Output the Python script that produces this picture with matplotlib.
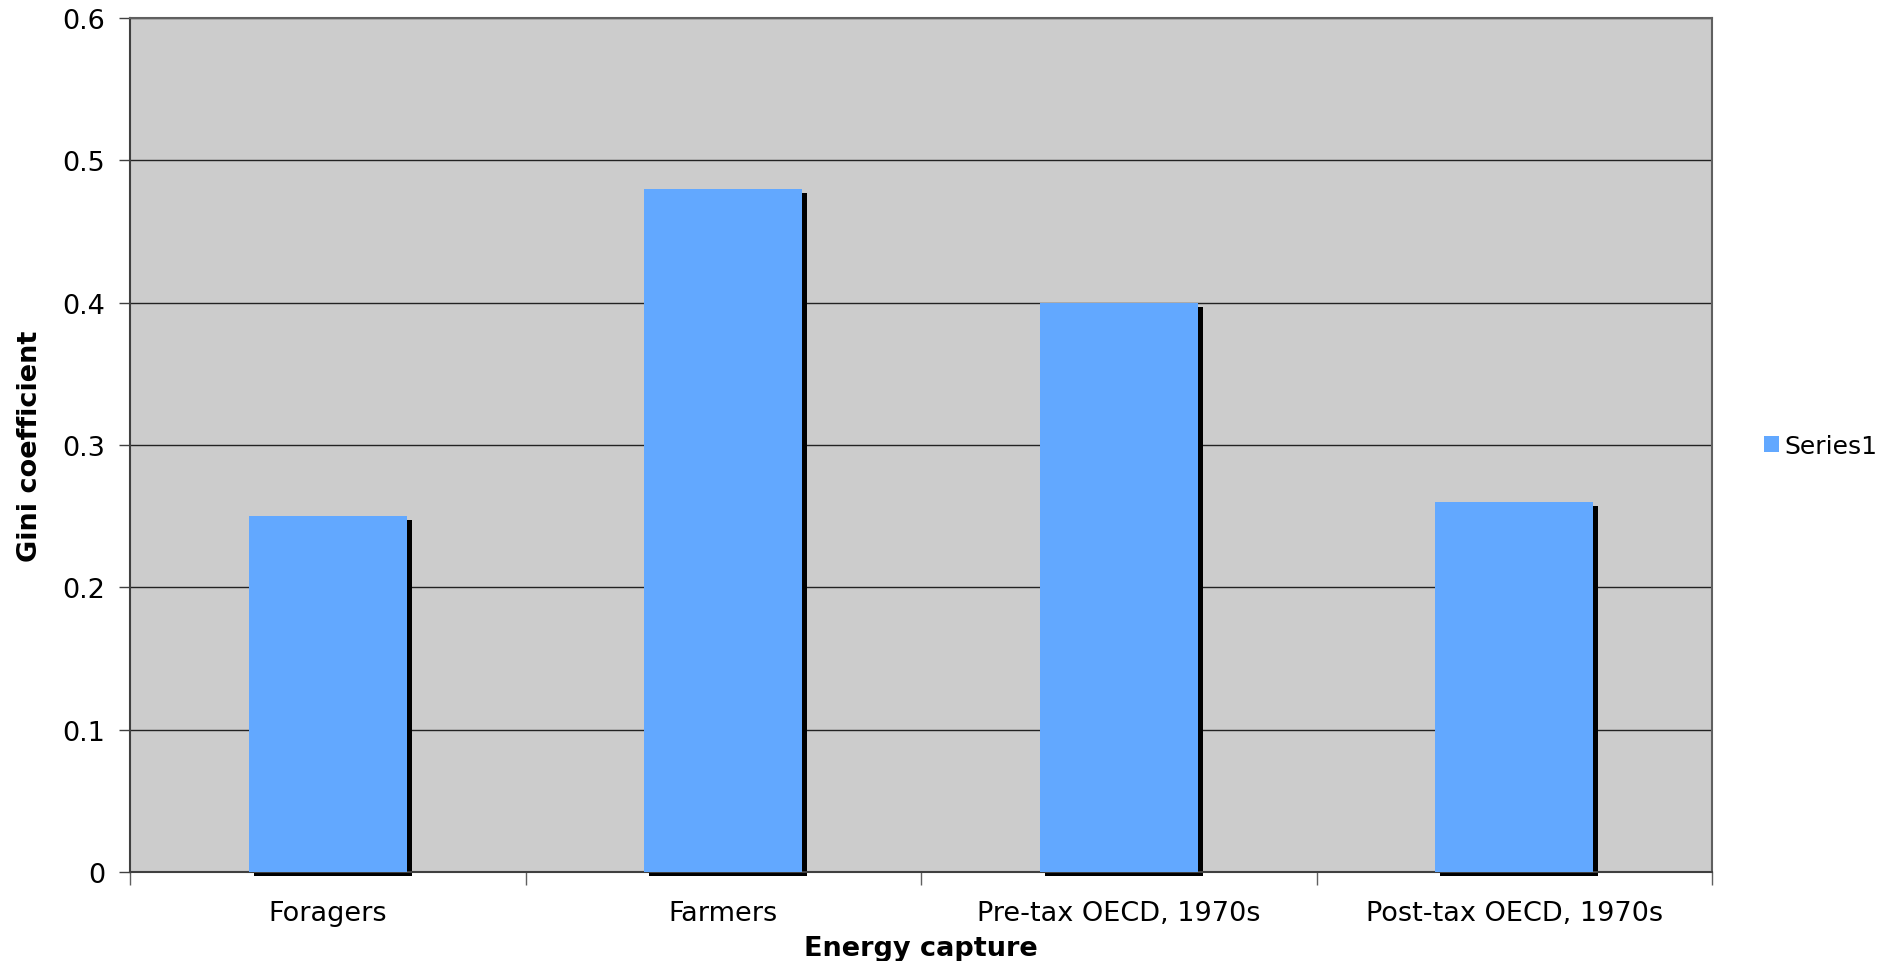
import matplotlib
matplotlib.use("Agg")
import matplotlib.pyplot as plt
import matplotlib.transforms as mtransforms
from matplotlib.patches import Patch
import numpy as np

categories = ["Foragers", "Farmers", "Pre-tax OECD, 1970s", "Post-tax OECD, 1970s"]
values = [0.25, 0.48, 0.40, 0.26]
yticks = [0, 0.1, 0.2, 0.3, 0.4, 0.5, 0.6]
ytick_labels = ["0", "0.1", "0.2", "0.3", "0.4", "0.5", "0.6"]
series_name = "Series1"

plt.rcParams['font.family'] = ['DejaVu Sans']
FS = 19.5

fig = plt.figure(figsize=(18.79, 9.62), dpi=100)
ax = fig.add_axes([130/1879, 1 - 873/962, (1712-130)/1879, (873-19)/962])
ax.set_facecolor('#CCCCCC')

x = np.arange(len(categories))
width = 0.4
shadow_tr = ax.transData + mtransforms.ScaledTranslation(5/100, -4/100, fig.dpi_scale_trans)
ax.bar(x, values, width=width, color='black', zorder=2, transform=shadow_tr, clip_on=False)
ax.bar(x, values, width=width, color='#62A8FF', zorder=3, label=series_name)

ax.set_xlim(-0.5, len(categories) - 0.5)
ax.set_ylim(0, 0.6)
ax.set_yticks(yticks)
ax.set_yticklabels(ytick_labels, fontsize=FS)
ax.yaxis.grid(True, color='#222222', linewidth=1.0, zorder=1)
ax.set_axisbelow(True)

ax.set_xticks(x)
ax.set_xticklabels(categories, fontsize=FS)
ax.tick_params(axis='x', which='major', length=0, pad=20)
ax.set_xticks(np.arange(len(categories) + 1) - 0.5, minor=True)
ax.tick_params(axis='x', which='minor', length=9, width=1.0, color='#606060')
ax.tick_params(axis='y', length=8, width=1.0, color='#404040', pad=10)

for s in ax.spines.values():
    s.set_color('#606060')
    s.set_linewidth(1.5)
ax.spines['left'].set_color('#404040')
ax.spines['bottom'].set_color('#404040')

ax.set_ylabel("Gini coefficient", fontsize=FS, fontweight='bold')
ax.set_xlabel("Energy capture", fontsize=FS, fontweight='bold', labelpad=7)
ax.yaxis.set_label_coords(-0.055, 0.5)

leg = fig.legend(handles=[Patch(facecolor='#62A8FF', label=series_name)],
                 loc='center left', bbox_to_anchor=(1764/1879, 1 - 447/962),
                 frameon=False, fontsize=18, handlelength=0.6, handleheight=0.6,
                 handletextpad=0.2, borderaxespad=0, borderpad=0)

fig.savefig("out.png", dpi=100)
